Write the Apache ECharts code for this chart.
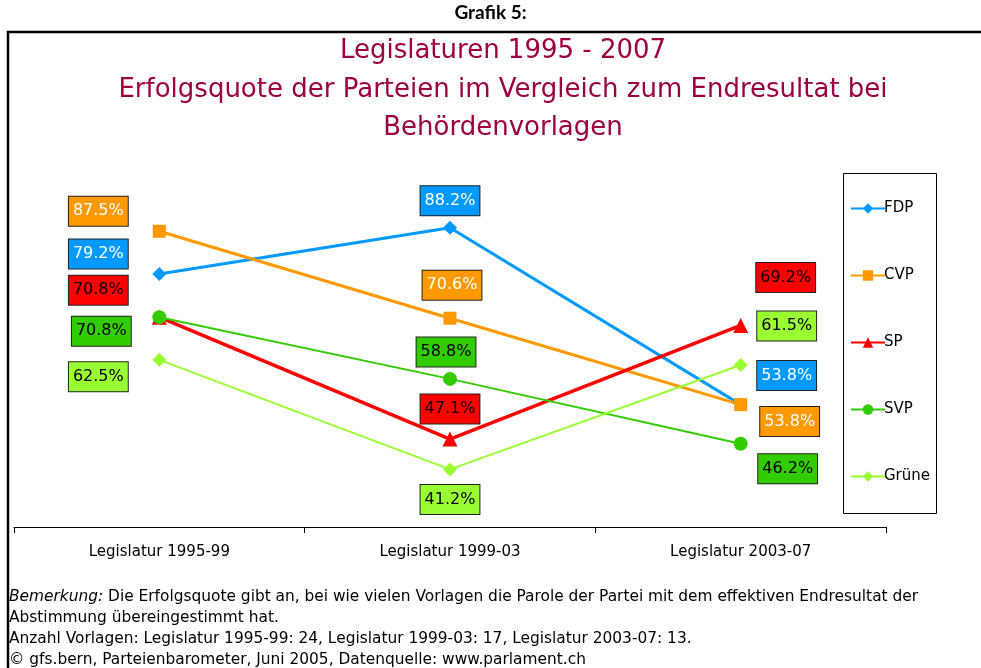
<!DOCTYPE html>
<html>
<head>
<meta charset="utf-8">
<script src="https://cdn.jsdelivr.net/npm/echarts@6/dist/echarts.min.js"></script>
<style>
html,body{margin:0;padding:0;background:#fff;}
#chart{width:981px;height:668px;}
</style>
</head>
<body>
<div id="chart"></div>
<script>
// Kategorien (Legislaturen)
var categories = ['Legislatur 1995-99', 'Legislatur 1999-03', 'Legislatur 2003-07'];

// Erfolgsquote in %
var fdp   = [79.2, 88.2, 53.8];
var cvp   = [87.5, 70.6, 53.8];
var sp    = [70.8, 47.1, 69.2];
var svp   = [70.8, 58.8, 46.2];
var gruene = [62.5, 41.2, 61.5];

// label-verschiebung (px) pro punkt, wie im original von hand gesetzt
var offFdp = [[-61,-20],[0,-27],[46,-29]];
var offCvp = [[-61,-20],[2,-33],[49,17]];
var offSp  = [[-61,-27],[0,-30],[45,-48]];
var offSvp = [[-58,14],[-4,-27],[47,25]];
var offGr  = [[-61,17],[0,30],[46,-39]];

var FONT = 'DejaVu Sans';

function mkData(vals, offs, bg, txt){
	var out = [];
	for (var i = 0; i < vals.length; i++) {
		out.push({
			value: vals[i],
			label: {
				show: true,
				position: 'inside',
				offset: offs[i],
				formatter: function(p){ return p.value.toFixed(1) + '%'; },
				backgroundColor: bg,
				borderColor: '#222',
				borderWidth: 1,
				padding: [7, 4, 6, 4],
				color: txt,
				fontFamily: FONT,
				fontSize: 16
			}
		});
	}
	return out;
}

function mkSeries(name, vals, offs, color, symbol, size, width, txt){
	return {
		name: name,
		type: 'line',
		data: mkData(vals, offs, color, txt),
		symbol: symbol,
		symbolSize: size,
		lineStyle: {color: color, width: width},
		itemStyle: {color: color},
		emphasis: {disabled: true},
		z: 3
	};
}

var myChart = echarts.init(document.getElementById('chart'));
myChart.setOption({
	animation: false,
	backgroundColor: '#fff',
	title: {
		text: 'Legislaturen 1995 - 2007\nErfolgsquote der Parteien im Vergleich zum Endresultat bei\nBehördenvorlagen',
		left: 498,
		textAlign: 'center',
		top: 27,
		textStyle: {color: '#9C0040', fontFamily: FONT, fontWeight: 'normal', fontSize: 26, lineHeight: 38.5}
	},
	legend: {
		orient: 'vertical',
		left: 845,
		top: 196,
		itemGap: 52,
		itemWidth: 34,
		itemHeight: 13,
		textStyle: {fontFamily: FONT, fontSize: 15, color: '#000', padding: [0,0,0,-6]},
		data: ['FDP', 'CVP', 'SP', 'SVP', 'Grüne']
	},
	grid: {left: 14, right: 95, top: 167, bottom: 141},
	xAxis: {
		type: 'category',
		data: categories,
		boundaryGap: true,
		axisLine: {lineStyle: {color: '#000', width: 1}},
		axisTick: {show: true, length: 6, lineStyle: {color: '#000'}},
		axisLabel: {color: '#000', fontFamily: FONT, fontSize: 15, margin: 18}
	},
	yAxis: {
		type: 'value',
		min: 30,
		max: 100,
		show: false
	},
	series: [
		mkSeries('FDP', fdp, offFdp, '#0099FF', 'diamond', 14, 3, '#fff'),
		mkSeries('CVP', cvp, offCvp, '#FF9900', 'rect', 13, 3, '#fff'),
		mkSeries('SP', sp, offSp, '#FF0000', 'triangle', 15, 3.5, '#000'),
		mkSeries('SVP', svp, offSvp, '#33CC00', 'circle', 14, 2, '#000'),
		mkSeries('Grüne', gruene, offGr, '#99FF33', 'diamond', 14, 2, '#000')
	],
	graphic: [
		{type: 'text', left: 'center', top: 3,
		 style: {text: 'Grafik 5:', font: 'bold 19px Lato', fill: '#000'}},
		{type: 'rect', shape: {x: 8, y: 32, width: 1000, height: 700},
		 style: {fill: null, stroke: '#000', lineWidth: 2.5}, z: -1},
		{type: 'rect', shape: {x: 843.5, y: 173.5, width: 93, height: 340},
		 style: {fill: null, stroke: '#000', lineWidth: 1}, z: -1},
		{type: 'text', left: 9, top: 586,
		 style: {
			text: '{i|Bemerkung:} Die Erfolgsquote gibt an, bei wie vielen Vorlagen die Parole der Partei mit dem effektiven Endresultat der\nAbstimmung übereingestimmt hat.\nAnzahl Vorlagen: Legislatur 1995-99: 24, Legislatur 1999-03: 17, Legislatur 2003-07: 13.\n© gfs.bern, Parteienbarometer, Juni 2005, Datenquelle: www.parlament.ch',
			fill: '#000', font: '15.4px "DejaVu Sans"', lineHeight: 21,
			rich: {i: {fontStyle: 'italic', fontFamily: FONT, fontSize: 15.4, fill: '#000'}}
		 }}
	]
});
</script>
</body>
</html>
